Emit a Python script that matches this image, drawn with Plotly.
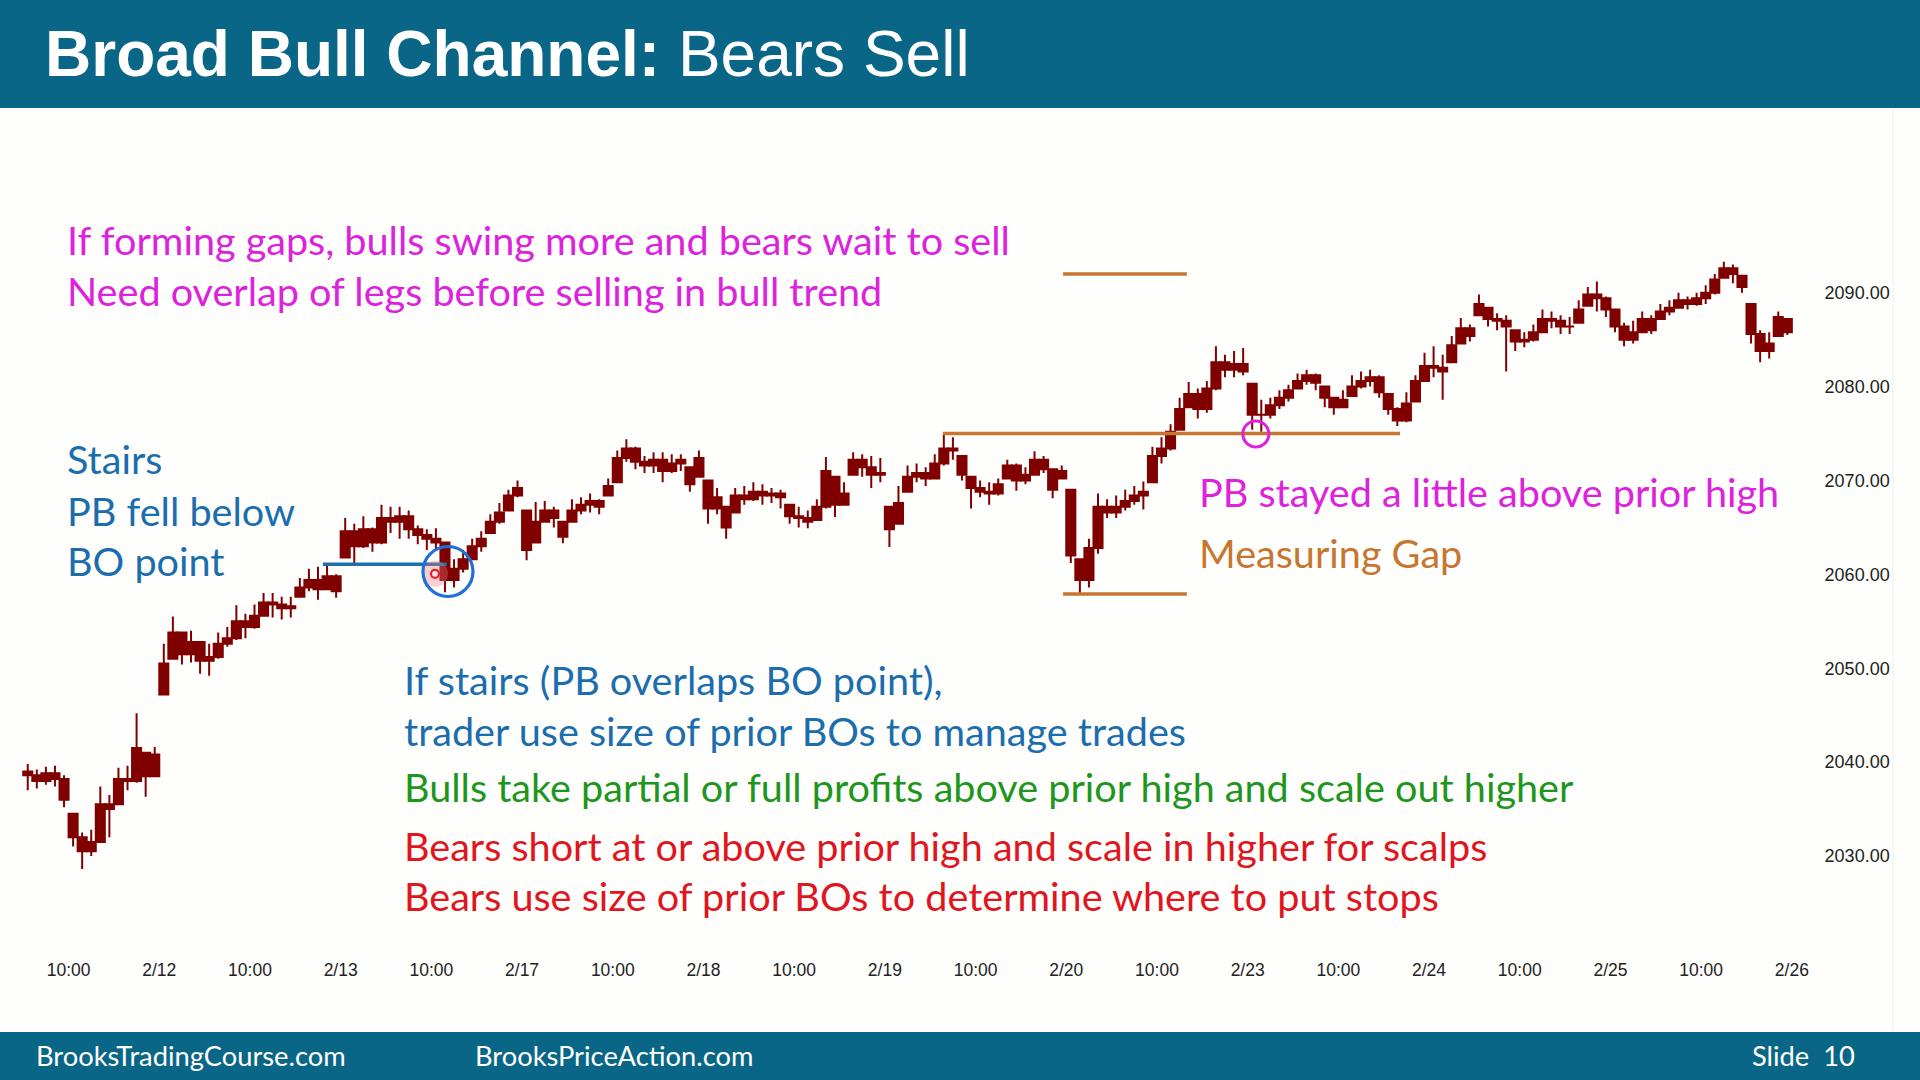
import plotly.graph_objects as go

# ---------------- data ----------------
# 195 bars, 10 per half-day label interval; bar k sits at label-units u = -0.45 + 0.1*k
closes = [
    2038.6, 2038.0, 2038.8, 2038.2, 2036.0,  2032.0, 2030.5, 2031.5, 2035.5, 2035.0,
    2038.2, 2038.0, 2041.5, 2038.5, 2040.8,  2050.5, 2053.8, 2051.5, 2052.8, 2050.8,
    2051.2, 2052.6, 2053.2, 2055.0, 2054.4,  2055.6, 2057.0, 2056.8, 2056.4, 2056.6,
    2058.6, 2059.4, 2058.4, 2059.8, 2058.2,  2064.6, 2063.0, 2064.8, 2063.4, 2066.0,
    2065.6, 2066.2, 2064.8, 2064.2, 2063.8,  2063.4, 2059.4, 2060.6, 2061.6, 2063.0,
    2063.8, 2065.6, 2066.6, 2068.4, 2069.2,  2062.6, 2065.6, 2066.8, 2066.0, 2064.0,
    2066.8, 2067.4, 2067.8, 2067.2, 2069.4,  2072.4, 2073.4, 2072.0, 2071.6, 2072.2,
    2071.0, 2071.8, 2072.2, 2069.6, 2072.4,  2067.0, 2068.2, 2065.0, 2068.4, 2068.0,
    2068.8, 2068.4, 2068.6, 2068.2, 2066.2,  2066.0, 2065.6, 2067.2, 2071.0, 2067.4,
    2068.6, 2072.2, 2071.4, 2070.6, 2070.8,  2064.8, 2067.6, 2070.4, 2070.8, 2070.2,
    2071.8, 2073.4, 2073.2, 2070.6, 2069.2,  2068.8, 2068.6, 2069.6, 2071.6, 2070.0,
    2070.6, 2072.2, 2071.2, 2069.0, 2071.0,  2062.0, 2059.4, 2062.8, 2067.2, 2066.6,
    2067.2, 2067.8, 2068.4, 2068.8, 2072.6,  2073.4, 2075.2, 2077.6, 2079.2, 2077.6,
    2079.8, 2082.6, 2081.8, 2082.4, 2081.6,  2077.0, 2077.0, 2078.0, 2078.8, 2079.6,
    2080.6, 2081.2, 2080.4, 2078.8, 2077.8,  2078.6, 2080.0, 2080.6, 2081.0, 2079.4,
    2077.6, 2076.4, 2078.2, 2080.6, 2082.2,  2082.0, 2081.6, 2084.4, 2086.2, 2085.4,
    2088.8, 2087.2, 2087.0, 2086.4, 2084.8,  2085.0, 2085.8, 2087.2, 2087.0, 2086.4,
    2086.4, 2088.2, 2089.8, 2089.4, 2088.2,  2086.4, 2085.0, 2085.8, 2087.2, 2086.0,
    2088.0, 2088.4, 2089.2, 2088.8, 2089.4,  2090.0, 2091.4, 2092.6, 2092.0, 2090.6,
    2085.6, 2083.8, 2084.6, 2087.4, 2085.8,
]
highs = [
    2039.8, 2039.2, 2039.5, 2039.6, 2038.6,  2034.5, 2032.5, 2032.8, 2037.4, 2036.5,
    2039.4, 2039.6, 2045.2, 2041.0, 2041.6,  2052.6, 2055.5, 2053.8, 2054.0, 2052.8,
    2052.6, 2053.8, 2054.4, 2056.7, 2055.8,  2056.8, 2058.0, 2058.0, 2057.6, 2057.6,
    2059.6, 2060.6, 2060.8, 2061.0, 2060.0,  2066.0, 2065.4, 2066.2, 2065.0, 2067.4,
    2067.2, 2067.2, 2066.8, 2065.2, 2064.8,  2064.9, 2063.4, 2061.6, 2062.6, 2063.8,
    2064.6, 2066.4, 2067.6, 2069.0, 2070.0,  2066.8, 2067.7, 2067.8, 2067.2, 2065.6,
    2068.0, 2068.2, 2068.6, 2068.0, 2070.2,  2073.2, 2074.4, 2073.6, 2072.6, 2073.0,
    2073.0, 2072.8, 2072.8, 2071.4, 2073.2,  2070.0, 2069.2, 2067.2, 2069.2, 2069.4,
    2069.8, 2069.6, 2069.2, 2069.0, 2067.4,  2067.2, 2066.8, 2068.0, 2072.5, 2070.4,
    2069.8, 2073.0, 2072.8, 2072.6, 2072.4,  2067.2, 2069.4, 2071.6, 2071.8, 2071.4,
    2072.8, 2075.0, 2074.6, 2072.6, 2070.4,  2070.0, 2069.8, 2070.2, 2072.2, 2071.8,
    2071.4, 2073.1, 2072.6, 2071.2, 2071.6,  2069.0, 2061.6, 2063.8, 2068.6, 2068.0,
    2068.4, 2069.0, 2069.4, 2069.9, 2073.6,  2074.6, 2076.0, 2078.8, 2080.5, 2079.8,
    2080.6, 2084.3, 2083.4, 2083.8, 2084.1,  2080.3, 2078.6, 2078.8, 2079.6, 2080.2,
    2081.4, 2081.8, 2081.4, 2080.0, 2078.8,  2079.6, 2081.2, 2081.6, 2081.8, 2081.2,
    2079.2, 2077.8, 2079.4, 2081.2, 2083.6,  2084.3, 2083.4, 2085.4, 2087.3, 2086.6,
    2089.8, 2088.4, 2087.8, 2087.6, 2086.0,  2085.8, 2086.6, 2088.2, 2088.0, 2087.6,
    2087.4, 2089.2, 2090.6, 2091.2, 2089.6,  2088.2, 2086.8, 2087.0, 2088.0, 2087.6,
    2088.8, 2089.2, 2090.0, 2089.6, 2090.0,  2090.8, 2092.0, 2093.3, 2093.0, 2091.8,
    2088.8, 2086.0, 2085.8, 2088.0, 2087.2,
]
lows = [
    2037.0, 2037.2, 2037.6, 2037.4, 2035.2,  2031.0, 2028.6, 2030.0, 2031.5, 2032.0,
    2035.5, 2037.0, 2037.8, 2036.3, 2038.4,  2047.2, 2051.0, 2050.4, 2050.6, 2049.4,
    2049.2, 2051.0, 2052.3, 2053.0, 2053.2,  2054.2, 2055.6, 2055.4, 2055.2, 2055.4,
    2057.6, 2058.2, 2057.3, 2058.4, 2057.5,  2061.8, 2061.2, 2062.8, 2062.4, 2063.2,
    2064.4, 2063.8, 2063.8, 2063.2, 2062.6,  2062.6, 2058.1, 2058.6, 2060.2, 2061.6,
    2062.4, 2064.4, 2065.4, 2066.8, 2068.2,  2061.5, 2063.4, 2065.6, 2065.0, 2063.3,
    2065.6, 2066.4, 2066.6, 2066.4, 2068.4,  2069.8, 2072.0, 2071.2, 2070.8, 2070.8,
    2069.8, 2070.8, 2071.0, 2068.8, 2070.4,  2065.4, 2066.4, 2063.8, 2066.6, 2067.4,
    2067.8, 2067.4, 2067.6, 2067.0, 2065.4,  2065.0, 2064.9, 2065.8, 2067.0, 2066.1,
    2067.4, 2070.6, 2070.4, 2069.2, 2069.8,  2062.9, 2065.4, 2068.8, 2069.8, 2069.4,
    2070.2, 2071.6, 2072.2, 2070.0, 2067.0,  2068.2, 2067.4, 2068.4, 2070.2, 2068.9,
    2069.6, 2070.6, 2070.8, 2068.1, 2070.2,  2061.2, 2058.0, 2058.6, 2062.2, 2066.0,
    2066.0, 2066.8, 2067.4, 2066.9, 2069.8,  2071.8, 2073.2, 2075.4, 2077.8, 2076.6,
    2077.2, 2079.6, 2081.0, 2081.0, 2081.2,  2075.4, 2075.2, 2076.6, 2077.6, 2078.4,
    2079.8, 2080.2, 2079.6, 2077.8, 2077.0,  2077.8, 2079.0, 2079.8, 2080.0, 2078.8,
    2077.0, 2075.8, 2076.2, 2078.4, 2080.6,  2081.0, 2078.6, 2082.6, 2084.6, 2084.8,
    2087.6, 2086.4, 2086.0, 2081.6, 2083.8,  2084.2, 2084.8, 2085.8, 2086.2, 2085.6,
    2085.6, 2086.8, 2088.6, 2088.0, 2087.4,  2085.8, 2084.3, 2084.6, 2085.8, 2085.6,
    2087.2, 2087.6, 2088.4, 2088.2, 2088.6,  2088.8, 2089.8, 2091.6, 2091.0, 2090.0,
    2084.6, 2082.6, 2083.0, 2085.4, 2085.5,
]
first_open = 2039.0

session_dates = ["2/12", "2/13", "2/17", "2/18", "2/19", "2/20", "2/23", "2/24", "2/25", "2/26"]
time_label = "10:00"
price_ticks = [2030, 2040, 2050, 2060, 2070, 2080, 2090]

# annotation levels (price) and spans (in label units)
gap_levels = [2092.0, 2075.0, 2057.9]
gap_spans = [(10.965, 12.33), (9.64, 14.68), (10.965, 12.33)]
bo_level = 2061.07
bo_span = (2.805, 4.17)
blue_circle = (4.183, 2060.3)
red_dot = (4.04, 2060.05)
magenta_circle = (13.09, 2074.95)

# ---------------- figure geometry ----------------
W, H = 1920, 1080
ML, MR, MT, MB = 0, 110, 110, 127
PW, PH = W - ML - MR, H - MT - MB
Y_TOP = 2090 + (292.7 - MT) / 9.388
Y_BOT = 2090 - (H - MB - 292.7) / 9.388


def k_of(u):
    return 10 * u + 4.5


def px(x):
    return (x - ML) / PW


def py(y):
    return 1 - (y - MT) / PH


n = len(closes)
xs = list(range(n))
prev = [first_open] + closes[:-1]
opens = [min(max(p, lo), hi) for p, lo, hi in zip(prev, lows, highs)]

CANDLE = "#800000"
fig = go.Figure()
fig.add_trace(go.Candlestick(
    x=xs, open=opens, high=highs, low=lows, close=closes,
    increasing=dict(line=dict(color=CANDLE, width=2), fillcolor=CANDLE),
    decreasing=dict(line=dict(color=CANDLE, width=2), fillcolor=CANDLE),
    whiskerwidth=0, showlegend=False, hoverinfo="skip",
))

tickvals = [k_of(i) for i in range(20)]
ticktext = []
for d in session_dates:
    ticktext += [time_label, d]

ORANGE = "#C8752F"
MAGENTA = "#DC22DC"
BLUE_T = "#1B6DAE"
GREEN = "#1E961E"
RED = "#E0151D"
HEAD = "#0A6687"

shapes = []
# header and footer bands
shapes.append(dict(type="rect", xref="paper", yref="paper", x0=px(0), x1=px(W), y0=py(0), y1=py(108),
                   fillcolor=HEAD, line=dict(width=0), layer="below"))
shapes.append(dict(type="rect", xref="paper", yref="paper", x0=px(0), x1=px(W), y0=py(1032), y1=py(H),
                   fillcolor=HEAD, line=dict(width=0), layer="below"))
shapes.append(dict(type="line", xref="paper", yref="paper", x0=px(1893), x1=px(1893), y0=py(108), y1=py(1032),
                   line=dict(color="#EEEEEE", width=1), layer="below"))
# measuring gap lines
for lvl, (u0, u1) in zip(gap_levels, gap_spans):
    shapes.append(dict(type="line", xref="x", yref="y", x0=k_of(u0), x1=k_of(u1), y0=lvl, y1=lvl,
                       line=dict(color=ORANGE, width=3.5)))
# BO point line
shapes.append(dict(type="line", xref="x", yref="y", x0=k_of(bo_span[0]), x1=k_of(bo_span[1]),
                   y0=bo_level, y1=bo_level, line=dict(color="#1C6FA8", width=3.5)))


def circ(center, r, color, width, fill="rgba(0,0,0,0)"):
    return dict(type="circle", xref="x", yref="y", xsizemode="pixel", ysizemode="pixel",
                xanchor=k_of(center[0]), yanchor=center[1], x0=-r, x1=r, y0=-r, y1=r,
                line=dict(color=color, width=width), fillcolor=fill)


shapes.append(circ(red_dot, 13, "rgba(0,0,0,0)", 0, "rgba(240,120,130,0.35)"))
shapes.append(circ(red_dot, 4, "#E8202A", 2.2, "#FFE8E8"))
shapes.append(circ(blue_circle, 25, "#1F6FD8", 3.2))
shapes.append(circ(magenta_circle, 13, MAGENTA, 3))

TXT = "Lato"
annotations = []


def add_text(text, x, y, color, size=39.6, family=TXT, anchor="left"):
    annotations.append(dict(text=text, xref="paper", yref="paper", x=px(x), y=py(y),
                            xanchor=anchor, yanchor="middle", showarrow=False,
                            font=dict(family=family, size=size, color=color)))


add_text("<b>Broad Bull Channel:</b> Bears Sell", 43, 54, "#FFFFFF", size=64, family="Liberation Sans")
add_text("If forming gaps, bulls swing more and bears wait to sell", 65, 239, MAGENTA)
add_text("Need overlap of legs before selling in bull trend", 65, 290, MAGENTA)
add_text("Stairs", 65, 458, BLUE_T)
add_text("PB fell below", 65, 510, BLUE_T)
add_text("BO point", 65, 560, BLUE_T)
add_text("PB stayed a little above prior high", 1197, 491, MAGENTA)
add_text("Measuring Gap", 1197, 552, ORANGE)
add_text("If stairs (PB overlaps BO point),", 402, 679, BLUE_T)
add_text("trader use size of prior BOs to manage trades", 402, 730, BLUE_T)
add_text("Bulls take partial or full profits above prior high and scale out higher", 402, 786, GREEN)
add_text("Bears short at or above prior high and scale in higher for scalps", 402, 845, RED)
add_text("Bears use size of prior BOs to determine where to put stops", 402, 895, RED)
add_text("BrooksTradingCourse.com", 34, 1055, "#FFFFFF", size=27.3)
add_text("BrooksPriceAction.com", 473, 1055, "#FFFFFF", size=27.3)
add_text("Slide  10", 1750, 1055, "#FFFFFF", size=27.3)

fig.update_layout(
    width=W, height=H,
    margin=dict(l=ML, r=MR, t=MT, b=MB),
    paper_bgcolor="#FEFEFC", plot_bgcolor="#FEFEFC",
    shapes=shapes, annotations=annotations,
    showlegend=False, boxgap=0, boxgroupgap=0,
    xaxis=dict(range=[k_of(-0.756), k_of(19.2)], tickvals=tickvals, ticktext=ticktext,
               showgrid=False, zeroline=False, showline=False, rangeslider=dict(visible=False),
               ticks="outside", ticklen=1, tickcolor="rgba(0,0,0,0)",
               tickfont=dict(family="Liberation Sans", size=17.5, color="#222222"),
               fixedrange=True),
    yaxis=dict(range=[Y_BOT, Y_TOP], side="right", tickvals=price_ticks,
               ticktext=[f"{v:.2f}" for v in price_ticks],
               showgrid=False, zeroline=False, showline=False,
               ticks="outside", ticklen=10, tickcolor="rgba(0,0,0,0)",
               tickfont=dict(family="Liberation Sans", size=18, color="#222222"), fixedrange=True),
)

fig.write_html("out.html")
